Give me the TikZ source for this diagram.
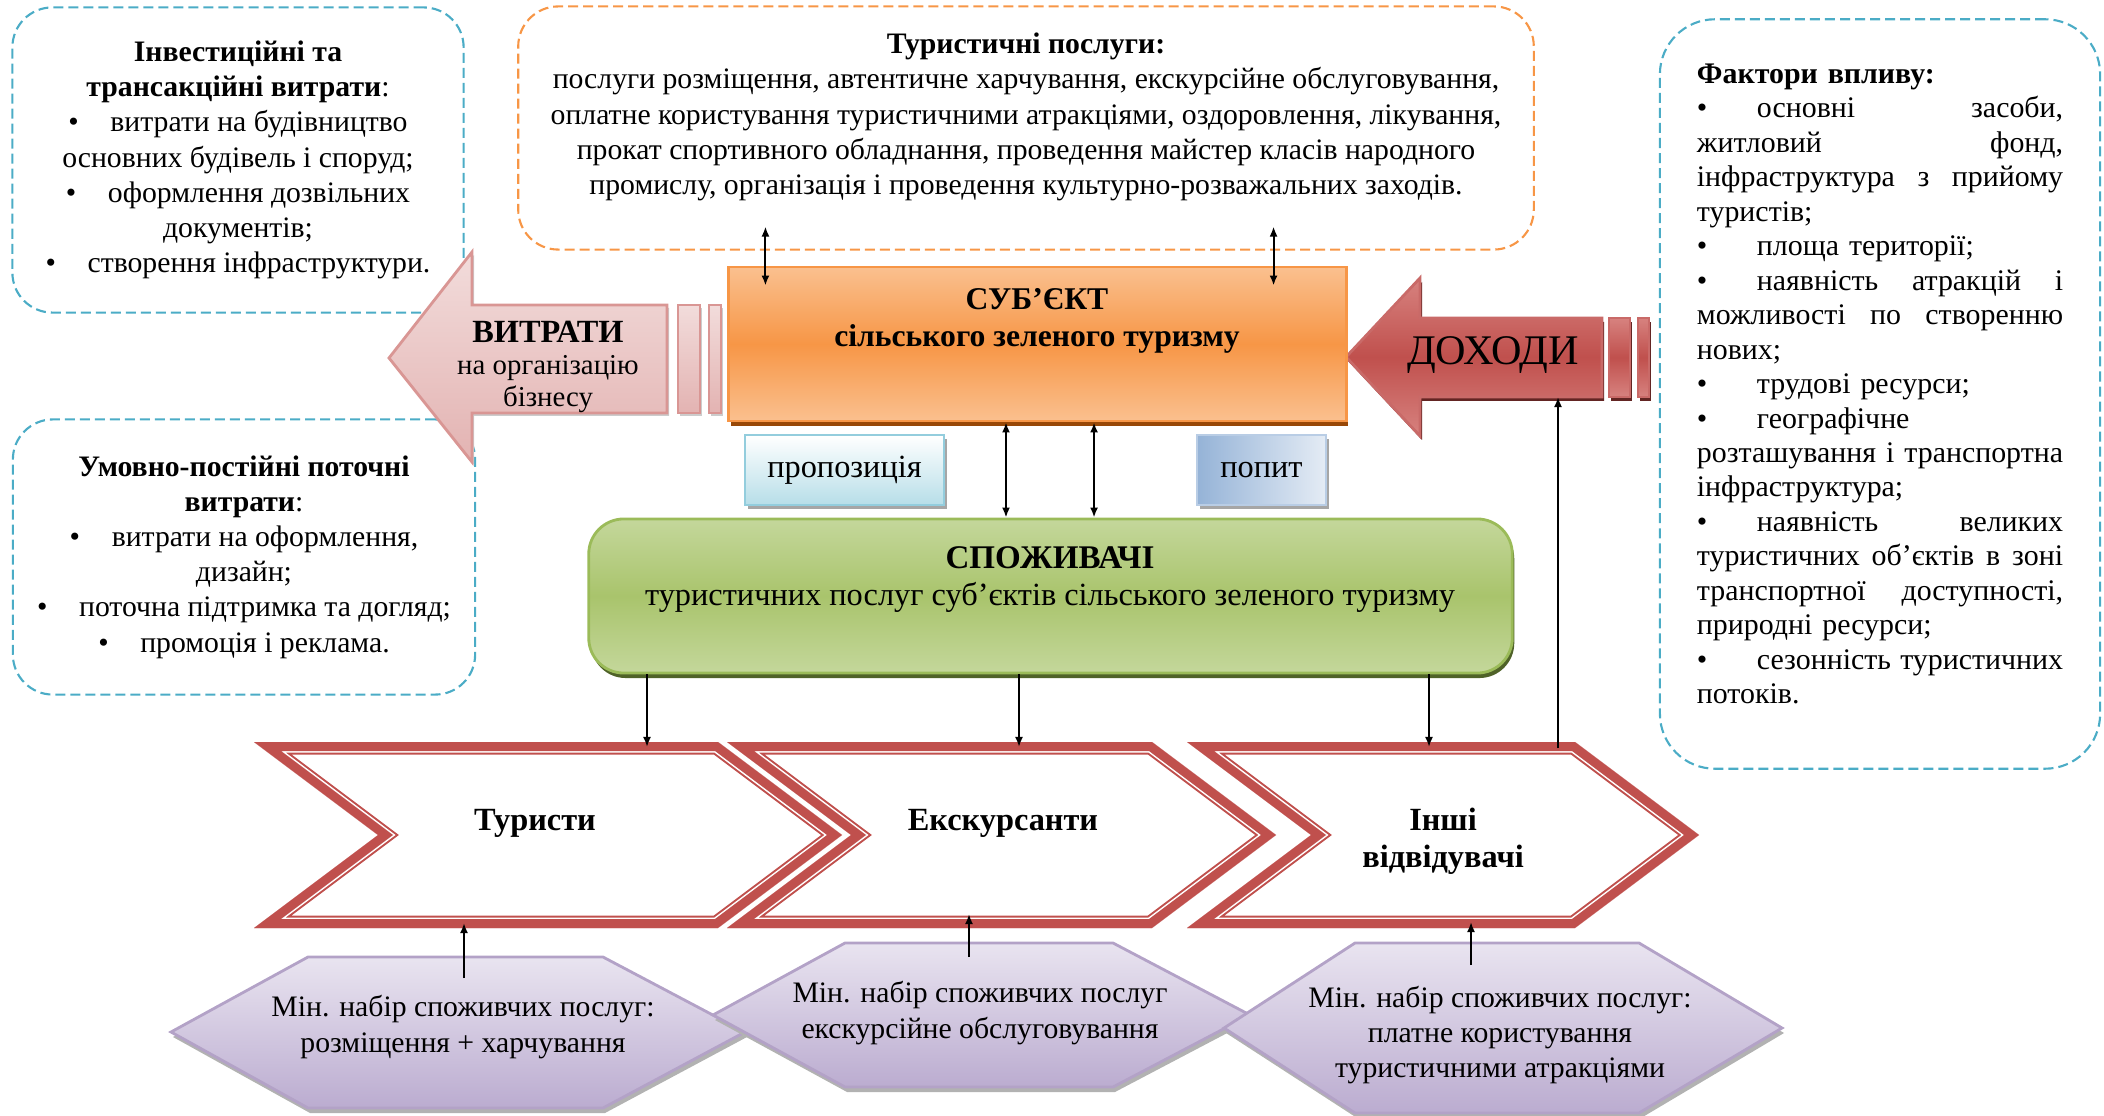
\documentclass[tikz,border=0pt]{standalone}
\usepackage{fontspec}
\setmainfont{Liberation Serif}
\usetikzlibrary{arrows.meta,shadows}

\definecolor{dashblue}{HTML}{4BACC6}
\definecolor{dashorange}{HTML}{F79646}
\definecolor{suborange}{HTML}{F79646}
\definecolor{sublight}{HTML}{FAC08F}
\definecolor{subshadow}{HTML}{984807}
\definecolor{spgreen}{HTML}{9BBB59}
\definecolor{spmid}{HTML}{A9C46C}
\definecolor{splight}{HTML}{C4D79B}
\definecolor{spshadow}{HTML}{4F6228}
\definecolor{chevred}{HTML}{C0504D}
\definecolor{redlight}{HTML}{D7827F}
\definecolor{redshadow}{HTML}{632523}
\definecolor{pinkline}{HTML}{D99694}
\definecolor{pinkfill}{HTML}{F2DCDB}
\definecolor{pinkdark}{HTML}{E3B3B2}
\definecolor{propline}{HTML}{93CDDD}
\definecolor{propfill}{HTML}{B7DEE8}
\definecolor{popline}{HTML}{B9CDE5}
\definecolor{popfill}{HTML}{95B3D7}
\definecolor{hexline}{HTML}{B3A2C7}
\definecolor{hexlight}{HTML}{E9E4F0}
\definecolor{hexdark}{HTML}{BBACD0}

\newcommand{\jline}[1]{\makebox[3.66cm][s]{\spaceskip=0.25em plus 4em\relax #1}}
\newcommand{\fbul}{\makebox[0.6cm][l]{\textbullet}}
\newcommand{\cbul}{\makebox[0.42cm][l]{\textbullet}}

\begin{document}
\begin{tikzpicture}[
        x=0.01cm, y=-0.01cm,
        every node/.style={inner sep=0pt, align=center, font=\fontsize{8.45}{10}\selectfont},
        dashbox/.style={draw, line width=0.6pt, dash pattern=on 0.1cm off 0.05cm, rounded corners=0.4cm},
        subbox/.style={draw=suborange, line width=0.8pt, minimum width=6.17cm, minimum height=1.54cm,
            top color=sublight, bottom color=sublight, middle color=suborange,
            drop shadow={shadow xshift=0.02cm, shadow yshift=-0.05cm, fill=subshadow, opacity=1}},
        greenbox/.style={draw=spgreen, line width=0.8pt, rounded corners=0.35cm, minimum width=9.23cm, minimum height=1.54cm,
            top color=splight, bottom color=splight, middle color=spmid,
            drop shadow={shadow xshift=0.02cm, shadow yshift=-0.05cm, fill=spshadow, opacity=1}},
        smallbox/.style={line width=0.8pt, minimum height=0.7cm, font=\fontsize{9.2}{10}\selectfont,
            drop shadow={shadow xshift=0.03cm, shadow yshift=-0.04cm, fill=black!35, opacity=1}},
        hexa/.style={draw=hexline, line width=0.8pt, top color=hexlight, bottom color=hexdark,
            drop shadow={shadow xshift=0.02cm, shadow yshift=-0.05cm, fill=black!30, opacity=1}},
        pinkarrow/.style={draw=pinkline, line width=0.8pt, top color=pinkfill, bottom color=pinkdark,
            drop shadow={shadow xshift=0.02cm, shadow yshift=-0.03cm, fill=black!20, opacity=1}},
        redarrow/.style={draw=chevred!85!white, line width=0.8pt, top color=redlight, bottom color=redlight, middle color=chevred,
            drop shadow={shadow xshift=0.02cm, shadow yshift=-0.04cm, fill=redshadow, opacity=1}},
        heading/.style={font=\fontsize{9.2}{10.5}\selectfont\bfseries},
        link/.style={-{Latex[length=1mm,width=0.8mm]}, line width=0.55pt},
        twoway/.style={{Latex[length=1mm,width=0.8mm]}-{Latex[length=1mm,width=0.8mm]}, line width=0.55pt}
        ]
    \useasboundingbox (0,0) rectangle (2104,1116);

    \node[dashbox, draw=dashblue, minimum width=4.51cm, minimum height=3.05cm] (invest) at (238,160)
        {\textbf{Інвестиційні та}\\\textbf{трансакційні витрати}:\\
         \cbul витрати на будівництво\\основних будівель і споруд;\\
         \cbul оформлення дозвільних\\документів;\\
         \cbul створення інфраструктури.};
    \node[dashbox, draw=dashblue, minimum width=4.62cm, minimum height=2.75cm] (postiyni) at (244,557)
        {\textbf{Умовно-постійні поточні}\\\textbf{витрати}:\\
         \cbul витрати на оформлення,\\дизайн;\\
         \cbul поточна підтримка та догляд;\\
         \cbul промоція і реклама.};
    \node[dashbox, draw=dashorange, minimum width=10.15cm, minimum height=2.43cm] (posluhy) at (1026,128) {};
    \node (posluhyt) at (1026,117)
        {\textbf{Туристичні послуги:}\\
         послуги розміщення, автентичне харчування, екскурсійне обслуговування,\\
         оплатне користування туристичними атракціями, оздоровлення, лікування,\\
         прокат спортивного обладнання, проведення майстер класів народного\\
         промислу, організація і проведення культурно-розважальних заходів.};
    \node[dashbox, draw=dashblue, rounded corners=0.55cm, minimum width=4.4cm, minimum height=7.49cm] (faktory) at (1880,394) {};
    \node[text width=3.66cm, align=left, font=\fontsize{8.5}{9.8}\selectfont] (faktoryt) at (1880,384)
        {\textbf{Фактори впливу:}\\
         \jline{\fbul основні засоби,}\\
         \jline{житловий фонд,}\\
         \jline{інфраструктура з прийому}\\
         туристів;\\
         \fbul площа території;\\
         \jline{\fbul наявність атракцій і}\\
         \jline{можливості по створенню}\\
         нових;\\
         \fbul трудові ресурси;\\
         \fbul географічне\\
         \jline{розташування і транспортна}\\
         інфраструктура;\\
         \jline{\fbul наявність великих}\\
         \jline{туристичних об'єктів в зоні}\\
         \jline{транспортної доступності,}\\
         природні ресурси;\\
         \jline{\fbul сезонність туристичних}\\
         потоків.};

    \draw[pinkarrow] (389,358) -- (472,252) -- (472,305) -- (667,305) -- (667,413) -- (472,413) -- (472,462) -- cycle;
    \draw[pinkarrow] (678,305) rectangle (700,413);
    \draw[pinkarrow] (709,305) rectangle (721,413);
    \node[font=\fontsize{8.2}{9.2}\selectfont] (vytr) at (548,367)
        {{\bfseries\fontsize{9.2}{9.2}\selectfont ВИТРАТИ}\\на організацію\\бізнесу};

    \draw[redarrow] (1346,357) -- (1420,278) -- (1420,318) -- (1602,318) -- (1602,397) -- (1420,397) -- (1420,436) -- cycle;
    \draw[redarrow] (1609,318) rectangle (1630,397);
    \draw[redarrow] (1638,318) rectangle (1649,397);
    \node[font=\fontsize{12}{12}\selectfont] (dokh) at (1493,355) {ДОХОДИ};

    \node[subbox] (sub) at (1037.5,344) {};
    \node[heading, font=\fontsize{9}{10.5}\selectfont\bfseries] (subt) at (1037,321) {СУБ’ЄКТ\\сільського зеленого туризму};

    \node[smallbox, draw=propline, top color=white, bottom color=propfill, minimum width=1.99cm] (prop) at (844.5,470) {пропозиція};
    \node[smallbox, draw=popline, left color=popfill, right color=popfill!25!white, minimum width=1.29cm] (popyt) at (1261.5,470) {попит};

    \node[greenbox] (spozh) at (1050.5,596) {};
    \node[font=\fontsize{9.2}{10.5}\selectfont] (spozht) at (1050,580)
        {{\bfseries\fontsize{9.4}{10.5}\selectfont СПОЖИВАЧІ}\\туристичних послуг суб’єктів сільського зеленого туризму};

    \foreach \xa/\xb in {254/718, 727/1152, 1187/1575}{
        \begin{scope}
            \clip (\xa,742) -- (\xb,742) -- (\xb+124,835) -- (\xb,928) -- (\xa,928) -- (\xa+124,835) -- cycle;
            \foreach \w/\col in {0.25cm/chevred, 0.21cm/white, 0.18cm/chevred}
                \draw[draw=\col, line width=\w, line join=miter]
                    (\xa,742) -- (\xb,742) -- (\xb+124,835) -- (\xb,928) -- (\xa,928) -- (\xa+124,835) -- cycle;
        \end{scope}
    }
    \node[heading] (tur) at (535,823) {Туристи};
    \node[heading] (eks) at (1003,823) {Екскурсанти};
    \node[heading] (inshi) at (1443,841) {Інші\\відвідувачі};

    \draw[hexa] (171,1032) -- (308,957) -- (603,957) -- (745,1032) -- (603,1108) -- (308,1108) -- cycle;
    \draw[hexa] (713,1015) -- (845,943) -- (1113,943) -- (1250,1015) -- (1113,1087) -- (845,1087) -- cycle;
    \draw[hexa] (1224,1028) -- (1355,943) -- (1639,943) -- (1782,1028) -- (1639,1113) -- (1355,1113) -- cycle;
    \node (min1) at (463,1027) {Мін. набір споживчих послуг:\\розміщення + харчування};
    \node (min2) at (980,1013) {Мін. набір споживчих послуг\\екскурсійне обслуговування};
    \node (min3) at (1500,1035) {Мін. набір споживчих послуг:\\платне користування\\туристичними атракціями};

    \coordinate (c1t) at (647,747);
    \coordinate (c2t) at (1019,747);
    \coordinate (c3t) at (1429,747);
    \coordinate (c3r) at (1558,748);
    \coordinate (dokhb) at (1558,397);
    \coordinate (h1) at (464,978);
    \coordinate (c1b) at (464,923);
    \coordinate (h2) at (969,957);
    \coordinate (c2b) at (969,914);
    \coordinate (h3) at (1471,965);
    \coordinate (c3b) at (1471,922);
    \coordinate (m1) at ([xshift=-0.315cm]sub.south);
    \coordinate (m2) at ([xshift=0.565cm]sub.south);

    \draw[twoway] ([xshift=0.38cm,yshift=-0.2cm]sub.north west) -- ++(0,-59);
    \draw[twoway] ([xshift=-0.74cm,yshift=-0.2cm]sub.north east) -- ++(0,-59);
    \draw[twoway] (m1) -- (m1 |- spozh.north);
    \draw[twoway] (m2) -- (m2 |- spozh.north);
    \foreach \n in {c1t, c2t, c3t}
        \draw[link] (spozh.south -| \n) -- (\n);
    \draw[link] (c3r) -- (dokhb);
    \draw[link] (h1) -- (c1b);
    \draw[link] (h2) -- (c2b);
    \draw[link] (h3) -- (c3b);
\end{tikzpicture}
\end{document}
